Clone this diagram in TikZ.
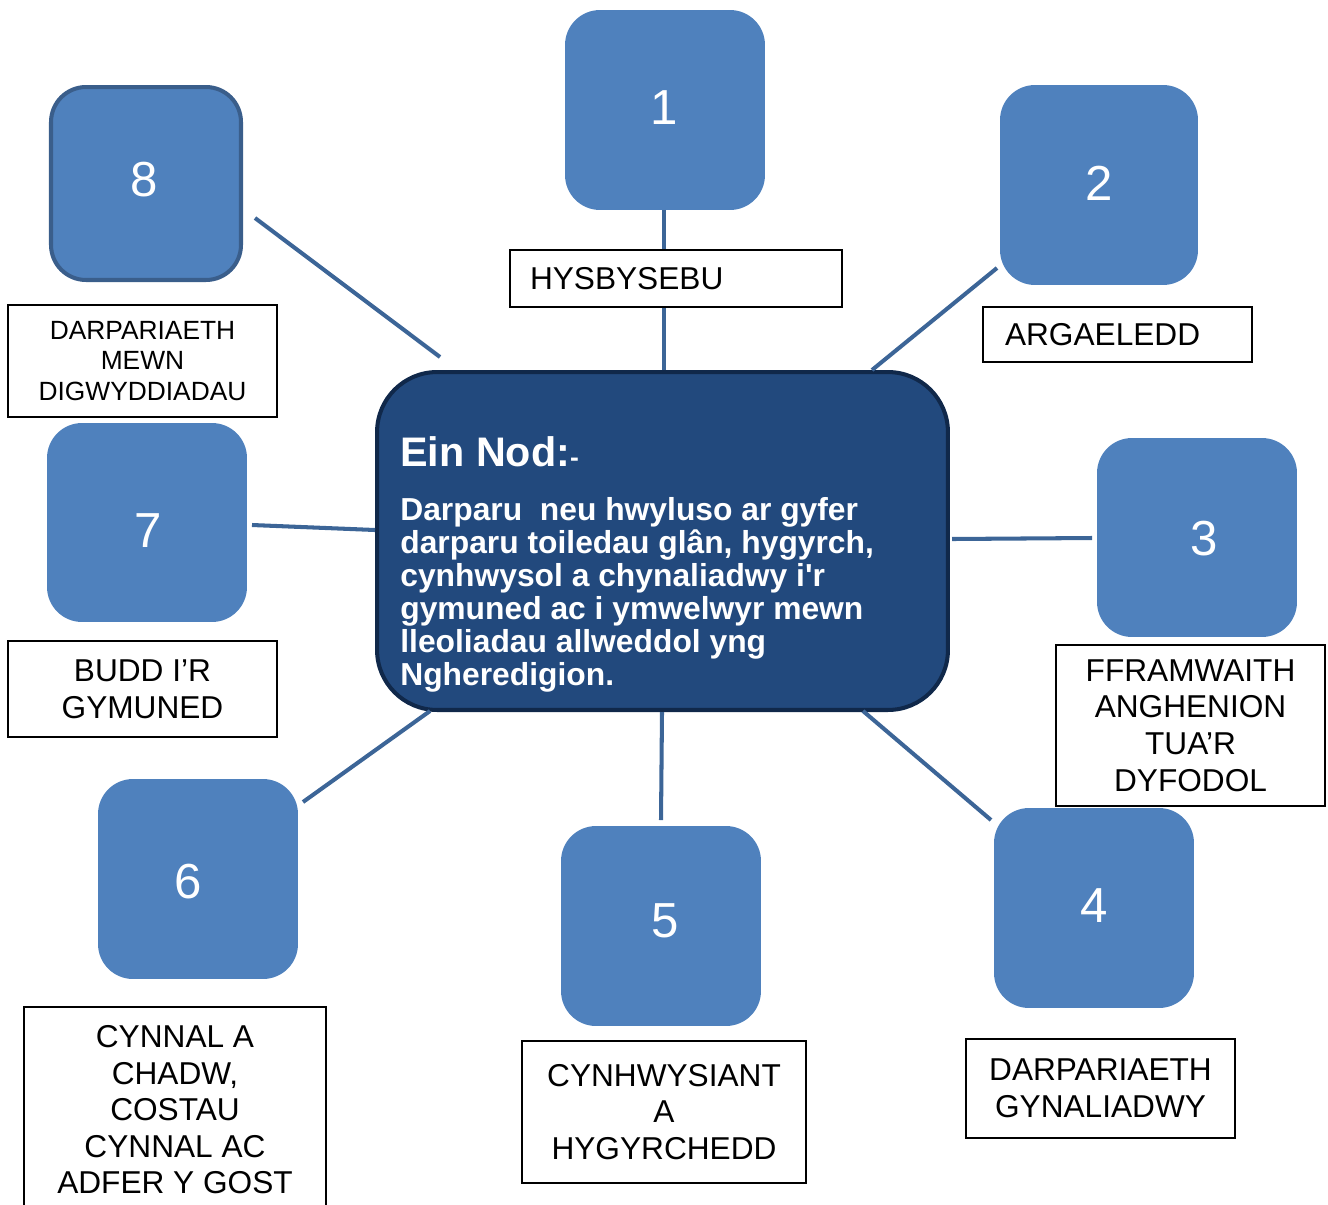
\documentclass[tikz,border=0pt]{standalone}
\usepackage{fontspec}
\setmainfont{Liberation Sans}
\newfontfamily\plainquote{Liberation Sans}
\definecolor{boxblue}{HTML}{4F81BD}
\definecolor{aimblue}{HTML}{22497D}
\definecolor{aimedge}{HTML}{10284A}
\definecolor{linkblue}{HTML}{3C6597}
\definecolor{boxedge}{HTML}{3A5E8B}
\begin{document}
\begin{tikzpicture}[x={(0.02cm,0cm)},y={(0cm,-0.02cm)},
  numbox/.style={fill=boxblue, rounded corners=0.7cm, minimum width=4cm, minimum height=4cm,
    inner sep=0pt, outer sep=0pt},
  digit/.style={text=white, font=\fontsize{28}{30}\selectfont, inner sep=0pt},
  labbox/.style={draw=black, line width=1.1pt, fill=white, align=center,
    font=\fontsize{18}{20.8}\selectfont, inner sep=0pt, outer sep=0pt},
  link/.style={draw=linkblue, line width=2.3pt},
  aimbox/.style={fill=aimblue, draw=aimedge, line width=2.3pt, rounded corners=1.2cm,
    minimum width=11.42cm, minimum height=6.76cm, inner sep=0pt, outer sep=0pt},
  aimtxt/.style={text=white, align=left, inner sep=0pt, anchor=north west}
]
\useasboundingbox (0,0) rectangle (1328,1204);

% centre
\node[aimbox] (aim) at (662.5,541) {};
\node[aimtxt, font=\bfseries\fontsize{23.5}{27}\selectfont] (aimtitle) at (400,436)
  {Ein Nod:{\fontsize{15}{15}\selectfont -}};
\node[aimtxt, font=\bfseries\fontsize{18.1}{18.8}\selectfont] (aimbody) at (400,497)
  {Darparu\ \ neu hwyluso ar gyfer\\
   darparu toiledau glân, hygyrch,\\
   cynhwysol a chynaliadwy i{\plainquote '}r\\
   gymuned ac i ymwelwyr mewn\\
   lleoliadau allweddol yng\\
   Ngheredigion.};

% numbered boxes
\node[numbox, label={[digit, shift={(-1,-2)}]center:1}] (b1) at (665,110) {};
\node[numbox, minimum width=3.96cm, label={[digit, shift={(0,-2)}]center:2}] (b2) at (1099,185) {};
\node[numbox, minimum height=3.98cm, label={[digit, shift={(7,1)}]center:3}] (b3) at (1197,537.5) {};
\node[numbox, label={[digit, shift={(0,-2)}]center:4}] (b4) at (1094,908) {};
\node[numbox, label={[digit, shift={(4,-5.5)}]center:5}] (b5) at (661,926) {};
\node[numbox, label={[digit, shift={(-10,3)}]center:6}] (b6) at (198,879) {};
\node[numbox, minimum height=3.98cm, label={[digit, shift={(1.5,8)}]center:7}] (b7) at (147,522.5) {};
\node[numbox, draw=boxedge, line width=2.3pt, minimum width=3.8cm, minimum height=3.86cm,
  label={[digit, shift={(-2,-3.5)}]center:8}] (b8) at (146,183.5) {};

% connector free ends
\coordinate (c2a) at (997,268);  \coordinate (c2b) at (872,370);
\coordinate (c8a) at (255,218);  \coordinate (c8b) at (440,357);
\coordinate (c7a) at (252,525);  \coordinate (c7b) at (375,530);
\coordinate (c3a) at (952,539);  \coordinate (c3b) at (1092,538);
\coordinate (c6a) at (303,802);  \coordinate (c6b) at (430,711);
\coordinate (c5a) at (662,712);  \coordinate (c5b) at (661,820);
\coordinate (c4a) at (863,711);  \coordinate (c4b) at (991,820);
\coordinate (c1) at (664,370);

% connectors
\draw[link] (b1.south -| c1) -- (c1);
\draw[link] (c2a) -- (c2b);
\draw[link] (c8a) -- (c8b);
\draw[link] (c7a) -- (c7b);
\draw[link] (c3a) -- (c3b);
\draw[link] (c6a) -- (c6b);
\draw[link] (c5a) -- (c5b);
\draw[link] (c4a) -- (c4b);

% labels
\node[labbox, align=left, text width=5.84cm, inner xsep=0.4cm, minimum height=1.14cm] (lab1) at (676,278.5) {HYSBYSEBU};
\node[labbox, align=left, text width=4.5cm, inner xsep=0.44cm, minimum height=1.1cm] (lab2) at (1117.5,334.5) {ARGAELEDD};
\node[labbox, font=\fontsize{15}{17.4}\selectfont, minimum width=5.38cm, minimum height=2.24cm] (lab8) at (142.5,361) {DARPARIAETH\\MEWN\\DIGWYDDIADAU};
\node[labbox, minimum width=5.38cm, minimum height=1.92cm] (lab7) at (142.5,689) {BUDD I’R\\GYMUNED};
\node[labbox, minimum width=5.38cm, minimum height=3.22cm] (lab3) at (1190.5,725.5) {FFRAMWAITH\\ANGHENION\\TUA’R\\DYFODOL};
\node[labbox, minimum width=5.38cm, minimum height=1.98cm] (lab4) at (1100.5,1088.5) {DARPARIAETH\\GYNALIADWY};
\node[labbox, minimum width=5.68cm, minimum height=2.84cm] (lab5) at (664,1112) {CYNHWYSIANT\\A\\HYGYRCHEDD};
\node[labbox, minimum width=6.04cm, minimum height=4.12cm] (lab6) at (175,1110) {CYNNAL A\\CHADW,\\COSTAU\\CYNNAL AC\\ADFER Y GOST};
\end{tikzpicture}
\end{document}
